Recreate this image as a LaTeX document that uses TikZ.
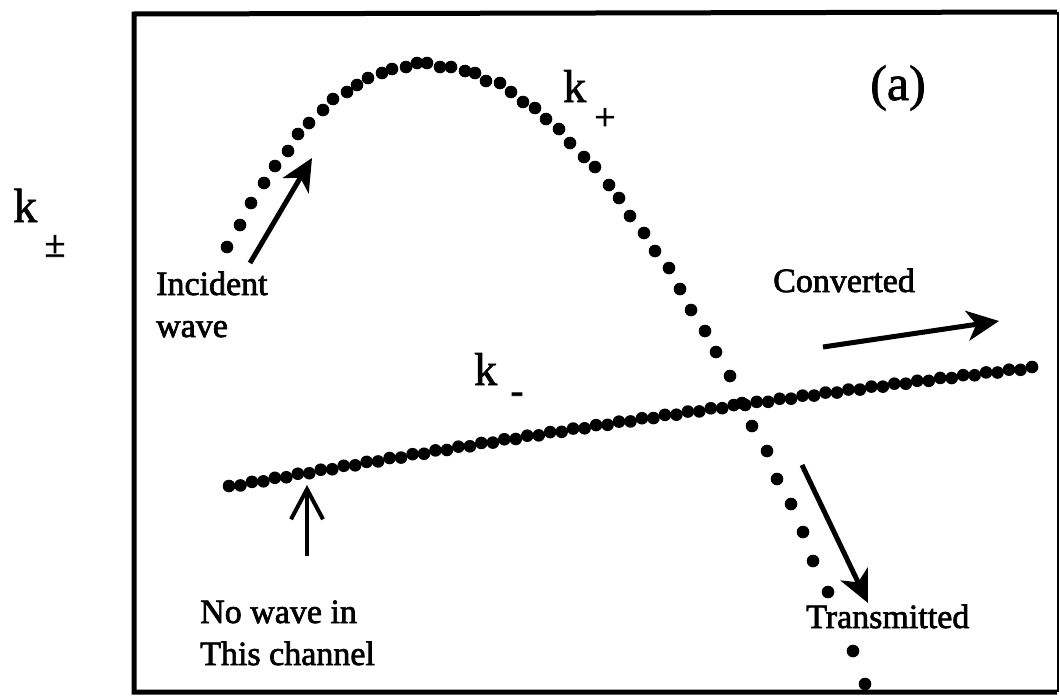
\documentclass[tikz,border=0pt]{standalone}
\usepackage{fontspec}
\setmainfont{Liberation Serif}
\usetikzlibrary{arrows.meta}
\newcommand\heavytxt[1]{\special{pdf:literal direct 2 Tr 0.7 w}#1\special{pdf:literal direct 0 Tr}}
\tikzset{
  dot/.style={fill=black},
  lbl/.style={inner sep=0pt, font=\fontsize{34}{40}\selectfont, anchor=base west},
  klbl/.style={inner sep=0pt, font=\fontsize{46}{50}\selectfont, anchor=base west},
  sublbl/.style={inner sep=0pt, font=\fontsize{38}{42}\selectfont},
  bigarrow/.style={line width=5pt, -{Stealth[length=32pt,width=30pt,inset=9pt]}},
  openarrow/.style={line width=4pt, -{Straight Barb[length=30pt,width=32pt]}},
  frame/.style={line width=5pt}
}
\begin{document}
\begin{tikzpicture}[x=1pt,y=-1pt]
\useasboundingbox (0,0) rectangle (1060,696);
% frame
\draw[frame] (1057,12) -- (134,14) -- (134,692) -- (1057,692);
\draw[line width=1.5pt] (1058,12) -- (1058,692);
% upper curve k+
\foreach \p in {(227,247),(240,225),(251,203),(264,183),(275,166),(288,151),(298,134),(309,123),(323,110),(333,99),(347,92),(357,85),(368,78),(382,73),(392,69),(406,67),(417,63),(427,63),(440,67),(451,67),(465,71),(475,73),(486,81),(500,83),(511,92),(523,102),(535,108),(546,119),(559,129),(570,143),(584,157),(595,167),(609,185),(619,198),(630,216),(644,233),(655,251),(669,268),(680,289),(691,310),(705,331),(716,352),(730,376),(742,403),(752,426),(767,451),(777,479),(791,504),(803,532),(813,561),(828,592),(853,651),(865,684)}
  \fill[dot] \p circle (6.3pt);
% lower line k-
\foreach \i in {0,...,70}{
  \pgfmathsetmacro\tt{\i/70}
  \pgfmathsetmacro\xx{229+803*\tt}
  \pgfmathsetmacro\yy{486-145.3*\tt+26.3*\tt*\tt+1.5*mod(\i,2)}
  \fill[dot] (\xx,\yy) circle (6.3pt);
}
% labels
\node[inner sep=0pt, font=\fontsize{50}{56}\selectfont] (a) at (898,88) {\heavytxt{(a)}};
\node[klbl] (kplus) at (563,102) {\heavytxt{k}};
\node[sublbl] (kplussub) at (605,119) {\heavytxt{+}};
\node[klbl] (kminus) at (474,385) {\heavytxt{k}};
\node[sublbl] (kminussub) at (517,398) {\heavytxt{-}};
\node[klbl, font=\fontsize{48}{52}\selectfont] (kpm) at (13,222) {\heavytxt{k}};
\node[sublbl] (kpmsub) at (55,246) {\heavytxt{±}};
\node[lbl] (inc1) at (156,295) {\heavytxt{Incident}};
\node[lbl] (inc2) at (156,337) {\heavytxt{wave}};
\node[lbl] (conv) at (773,292) {\heavytxt{Converted}};
\node[lbl] (nw1) at (200,623) {\heavytxt{No wave in}};
\node[lbl] (nw2) at (200,665) {\heavytxt{This channel}};
\node[lbl] (trans) at (806,628) {\heavytxt{Transmitted}};
% arrows
\coordinate (incA) at (250,263);
\coordinate (incB) at (312,158);
\coordinate (convA) at (823,347);
\coordinate (convB) at (999,321);
\coordinate (nwA) at (307,556);
\coordinate (nwB) at (307,485);
\coordinate (trA) at (802,465);
\coordinate (trB) at (868,603);
\draw[bigarrow] (incA) -- (incB);
\draw[bigarrow] (convA) -- (convB);
\draw[openarrow] (nwA) -- (nwB);
\draw[bigarrow] (trA) -- (trB);
\end{tikzpicture}
\end{document}
